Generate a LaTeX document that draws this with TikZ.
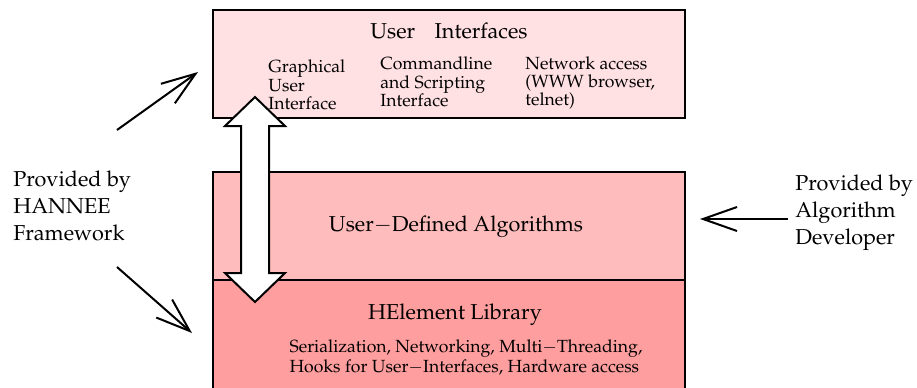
\documentclass[tikz,border=0pt]{standalone}
\usepackage[T1]{fontenc}
\usepackage{mathpazo}
\usetikzlibrary{arrows.meta}
\definecolor{uipink}{RGB}{255,224,227}
\definecolor{algpink}{RGB}{255,188,188}
\definecolor{libpink}{RGB}{255,158,158}
\tikzset{
  layer/.style={draw=black, line width=1.2pt},
  provided/.style={-{Straight Barb[length=17pt,width=12pt]}, line width=1pt},
  bigtext/.style={font=\fontsize{10.8}{13.5}\selectfont, inner sep=0pt},
  smalltext/.style={font=\fontsize{8.8}{9.2}\selectfont, align=left, inner sep=0pt, anchor=west}
}

\begin{document}
\begin{tikzpicture}[x=0.5pt, y=-0.5pt, >=latex]
  \clip (0,0) rectangle (917,387);
  \useasboundingbox (0,0) rectangle (917,387);
  % Schichten
  \draw[layer, fill=libpink] (213,280) rectangle (685,400);
  \draw[layer, fill=algpink] (213,172) rectangle (685,280);
  \draw[layer, fill=uipink] (213,10) rectangle (685,118);
  % Texte in den Schichten
  \node[bigtext] (ui) at (449,31) {User\hspace{0.9em}Interfaces};
  \node[smalltext] (gui) at (268,85) {Graphical\\User\\Interface};
  \node[smalltext] (cli) at (380,82) {Commandline\\and Scripting\\Interface};
  \node[smalltext] (net) at (525,83) {Network access\\(WWW browser,\\telnet)};
  \node[bigtext] (alg) at (456,227) {User$-$Defined Algorithms};
  \node[bigtext] (lib) at (455,315) {HElement Library};
  \node[smalltext, anchor=center, font=\fontsize{8.8}{10}\selectfont] (libdet) at (466,358) {Serialization, Networking, Multi$-$Threading,\\Hooks for User$-$Interfaces, Hardware access};
  % Doppelpfeil
  \draw[line width=1pt, fill=white] (255,97) -- (285,126) -- (269,126) -- (269,273) -- (285,273)
    -- (255,302) -- (225,273) -- (241,273) -- (241,126) -- (225,126) -- cycle;
  % Beschriftungen aussen
  \node[bigtext, align=left, anchor=west] (hannee) at (13,206) {Provided by\\HANNEE\\Framework};
  \node[bigtext, align=left, anchor=west] (algdev) at (795,213) {Provided by\\Algorithm\\Developer};
  \coordinate (hanneeUp) at (117,130);
  \coordinate (hanneeDown) at (117,267);
  \coordinate (uiLeft) at (198,72);
  \coordinate (libLeft) at (192,333);
  \coordinate (algdevStart) at (788,219);
  \coordinate (algRight) at (700,219);
  \draw[provided] (hanneeUp) -- (uiLeft);
  \draw[provided] (hanneeDown) -- (libLeft);
  \draw[provided] (algdevStart) -- (algRight);
\end{tikzpicture}
\end{document}
